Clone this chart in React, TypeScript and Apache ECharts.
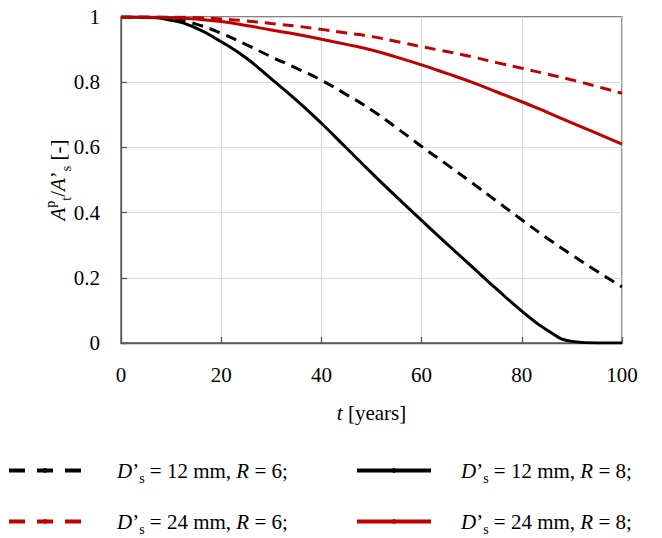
import React, { useEffect, useRef } from "react";
import * as echarts from "echarts";

const tYears = [0, 5, 10, 15, 20, 25, 30, 35, 40, 45, 50, 55, 60, 65, 70, 75, 80, 85, 90, 95, 100];
const d12r6 = [1, 0.9995, 0.995, 0.978, 0.95, 0.915, 0.878, 0.843, 0.806, 0.762, 0.715, 0.66, 0.603, 0.548, 0.492, 0.435, 0.378, 0.322, 0.27, 0.22, 0.172];
const d12r8 = [1, 0.999, 0.99, 0.966, 0.924, 0.874, 0.81, 0.745, 0.674, 0.598, 0.522, 0.448, 0.376, 0.305, 0.235, 0.165, 0.098, 0.04, 0.005, 0, 0];
const d24r6 = [1, 1, 1, 0.998, 0.994, 0.988, 0.98, 0.972, 0.962, 0.951, 0.94, 0.925, 0.909, 0.894, 0.878, 0.86, 0.843, 0.825, 0.807, 0.787, 0.766];
const d24r8 = [1, 1, 0.998, 0.994, 0.986, 0.974, 0.96, 0.947, 0.932, 0.916, 0.899, 0.877, 0.853, 0.827, 0.8, 0.77, 0.74, 0.708, 0.675, 0.643, 0.61];

const xTicks = [0, 20, 40, 60, 80, 100];
const yTicks = [0, 0.2, 0.4, 0.6, 0.8, 1];

const seriesNames = ["A", "B", "C", "E"];
const legendRich = [
  "{i|D}{n|’}{sub|s}{n| = 12 mm, }{i|R}{n| = 6;}",
  "{i|D}{n|’}{sub|s}{n| = 12 mm, }{i|R}{n| = 8;}",
  "{i|D}{n|’}{sub|s}{n| = 24 mm, }{i|R}{n| = 6;}",
  "{i|D}{n|’}{sub|s}{n| = 24 mm, }{i|R}{n| = 8;}",
];
const yTitle = "{i|A}{sup|p}{sub|t}{n|/}{i|A}{n|’}{sub|s}{n| [-]}";

const FONT = "Liberation Serif";
const FS = 21;
const BLACK = "#000000";
const RED = "#c00000";
const DASH = [11, 7];

const makeRich = () => ({
  n: { fontFamily: FONT, fontSize: FS, lineHeight: 30, color: "#000", verticalAlign: "middle" },
  i: { fontFamily: FONT, fontSize: FS, lineHeight: 30, fontStyle: "italic", color: "#000", verticalAlign: "middle" },
  sub: { fontFamily: FONT, fontSize: 14, lineHeight: 14, color: "#000", verticalAlign: "bottom" },
  sup: { fontFamily: FONT, fontSize: 14, lineHeight: 14, color: "#000", verticalAlign: "top" },
});

export default function App() {
  const ref = useRef<HTMLDivElement>(null);
  useEffect(() => {
    if (!ref.current) return;
    const chart = echarts.init(ref.current, null, { renderer: "svg" });
    const pairs = (arr: number[]) => tYears.map((t, i) => [t, arr[i]]);
    const styles = [
      { color: BLACK, dashed: true, data: d12r6 },
      { color: BLACK, dashed: false, data: d12r8 },
      { color: RED, dashed: true, data: d24r6 },
      { color: RED, dashed: false, data: d24r8 },
    ];
    const order = [0, 1, 2, 3];
    const legendPos = [
      { left: 7, top: 460, w: 72, pad: 31 },
      { left: 355, top: 460, w: 74, pad: 25 },
      { left: 7, top: 511, w: 72, pad: 31 },
      { left: 355, top: 511, w: 74, pad: 25 },
    ];
    const option: any = {
      animation: false,
      textStyle: { fontFamily: FONT },
      grid: {
        left: 121,
        right: 40,
        top: 17,
        bottom: 195,
        show: true,
        borderColor: "#595959",
        borderWidth: 1.3,
      },
      graphic: [
        {
          type: "text",
          x: 58,
          y: 180,
          rotation: Math.PI / 2,
          style: {
            text: yTitle,
            fontFamily: FONT,
            fontSize: FS,
            fill: "#000",
            align: "center",
            verticalAlign: "middle",
            rich: makeRich(),
          },
        },
      ],
      xAxis: {
        type: "value",
        min: xTicks[0],
        max: xTicks[xTicks.length - 1],
        interval: 20,
        name: "{i|t}{n| [years]}",
        nameLocation: "middle",
        nameGap: 55,
        nameTextStyle: { fontFamily: FONT, fontSize: FS, rich: makeRich() },
        axisLine: { show: true, lineStyle: { color: "#595959", width: 1.3 } },
        axisTick: { show: true, inside: true, length: 6, lineStyle: { color: "#595959", width: 1.3 } },
        axisLabel: { color: "#000", fontFamily: FONT, fontSize: FS, margin: 21 },
        splitLine: { show: true, lineStyle: { color: "#d9d9d9", width: 1 } },
      },
      yAxis: {
        type: "value",
        min: yTicks[0],
        max: yTicks[yTicks.length - 1],
        interval: 0.2,
        axisLine: { show: true, lineStyle: { color: "#595959", width: 1.3 } },
        axisTick: { show: true, inside: true, length: 6, lineStyle: { color: "#595959", width: 1.3 } },
        axisLabel: { color: "#000", fontFamily: FONT, fontSize: FS, margin: 21 },
        splitLine: { show: true, lineStyle: { color: "#d9d9d9", width: 1 } },
      },
      legend: order.map((k) => ({
        show: true,
        left: legendPos[k].left,
        top: legendPos[k].top,
        padding: 0,
        itemWidth: legendPos[k].w,
        itemHeight: 6,
        data: [
          {
            name: seriesNames[k],
            lineStyle: { width: 4, type: styles[k].dashed ? [16, 12] : "solid", color: styles[k].color },
          },
        ],
        formatter: () => legendRich[k],
        textStyle: {
          fontFamily: FONT,
          fontSize: FS,
          color: "#000",
          padding: [0, 0, 0, legendPos[k].pad],
          rich: makeRich(),
        },
      })),
      series: order.map((k) => ({
        name: seriesNames[k],
        type: "line",
        data: pairs(styles[k].data),
        symbol: "none",
        smooth: 0.5,
        lineStyle: { color: styles[k].color, width: 3, type: styles[k].dashed ? DASH : "solid" },
        itemStyle: { color: styles[k].color },
      })),
    };
    chart.setOption(option);
    return () => chart.dispose();
  }, []);
  return (
    <div style={{ position: "absolute", left: 0, top: 0, width: 662, height: 538, background: "#fff" }}>
      <div ref={ref} style={{ width: 662, height: 538 }} />
    </div>
  );
}
